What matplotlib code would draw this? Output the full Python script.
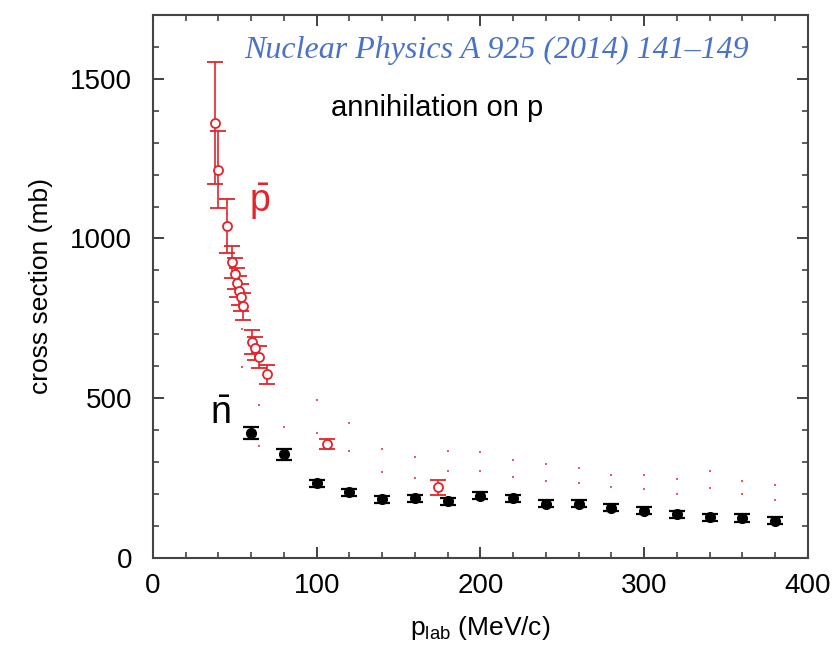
"""Antiproton / antineutron annihilation cross sections on p."""
import matplotlib
matplotlib.use('Agg')
import matplotlib.pyplot as plt
from matplotlib.ticker import MultipleLocator

plt.rcParams['font.family'] = ['Liberation Sans', 'DejaVu Sans']
plt.rcParams['mathtext.fontset'] = 'custom'
plt.rcParams['mathtext.rm'] = 'Liberation Sans'
plt.rcParams['mathtext.it'] = 'Liberation Sans:italic'

RED = '#e3242b'

# pbar p annihilation (open red circles)
pbar_x = [38, 40, 45.5, 48.5, 50, 51.5, 52.5, 53.5, 55, 60.5, 62.5, 64.5, 69.5, 106, 174]
pbar_y = [1362, 1215, 1040, 925, 890, 862, 837, 816, 788, 675, 656, 628, 575, 356, 221]
pbar_err = [190, 120, 85, 50, 48, 45, 45, 42, 42, 38, 36, 35, 30, 16, 23]

# nbar p annihilation (filled black circles)
nbar_x = [60, 80, 100, 120, 140, 160, 180, 200, 220, 240, 260, 280, 300, 320, 340, 360, 380]
nbar_y = [390, 325, 234, 206, 184, 187, 178, 194, 187, 170, 170, 157, 147, 137, 128, 125, 117]
nbar_err = [19, 17, 11, 11, 11, 11, 11, 11, 11, 11, 11, 11, 11, 11, 11, 11, 11]

# small red dots (upper / lower)
dot_hi_x = [54.5, 65, 80, 100, 120, 140, 160, 180, 200, 220, 240, 260, 280, 300, 320, 340, 360, 380]
dot_hi_y = [718, 478, 410, 494, 421, 340, 317, 334, 332, 308, 294, 283, 261, 261, 248, 273, 240, 227]
dot_lo_x = [54.5, 65, 100, 120, 140, 160, 180, 200, 220, 240, 260, 280, 300, 320, 340, 360, 380]
dot_lo_y = [598, 351, 390, 334, 268, 249, 273, 273, 254, 241, 235, 221, 216, 201, 219, 201, 181]

fig = plt.figure(figsize=(8.36, 6.45), dpi=100)
ax = fig.add_axes([0.183, 0.135, 0.7835, 0.842])

ax.plot(dot_hi_x, dot_hi_y, 's', color=RED, ms=2, mew=0, alpha=0.75)
ax.plot(dot_lo_x, dot_lo_y, 's', color=RED, ms=2, mew=0, alpha=0.75)

ax.errorbar(nbar_x, nbar_y, yerr=nbar_err, fmt='o', color='black', ms=7,
            capsize=5.5, elinewidth=1.3, capthick=1.6)
ax.errorbar(pbar_x, pbar_y, yerr=pbar_err, fmt='o', color=RED, mfc='white',
            mec=RED, mew=1.3, ms=6.5, capsize=5.5, elinewidth=1.2, capthick=1.2)

ax.set_xlim(0, 400)
ax.set_ylim(0, 1700)
ax.xaxis.set_major_locator(MultipleLocator(100))
ax.xaxis.set_minor_locator(MultipleLocator(20))
ax.yaxis.set_major_locator(MultipleLocator(500))
ax.yaxis.set_minor_locator(MultipleLocator(100))
ax.tick_params(which='both', direction='in', top=True, right=True,
               labelsize=20, color='#333333')
ax.tick_params(axis='x', pad=11)
ax.tick_params(axis='y', pad=15)
ax.tick_params(which='major', length=8, width=1.3)
ax.tick_params(which='minor', length=4, width=1.1)
for s in ax.spines.values():
    s.set_color('#444444')
    s.set_linewidth(1.5)

ax.set_xlabel(r'p$_{\mathrm{lab}}$ (MeV/c)', fontsize=19, labelpad=11)
ax.set_ylabel('cross section (mb)', fontsize=19, labelpad=12)

ax.text(0.524, 0.934, 'Nuclear Physics A 925 (2014) 141\u2013149', transform=ax.transAxes,
        ha='center', va='center', fontsize=23, style='italic', color='#4a72c8',
        family='Liberation Serif')
ax.text(0.434, 0.829, 'annihilation on p', transform=ax.transAxes,
        ha='center', va='center', fontsize=21)
ax.text(65, 1115, r'$\bar{\mathrm{p}}$', color=RED, fontsize=27, ha='center', va='center')
ax.text(41, 450, r'$\bar{\mathrm{n}}$', color='black', fontsize=27, ha='center', va='center')

plt.savefig('out.png', dpi=100)
